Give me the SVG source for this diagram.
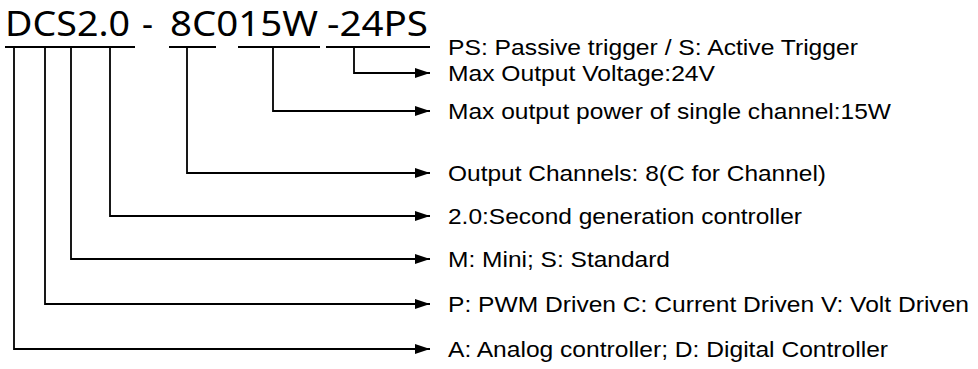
<svg xmlns="http://www.w3.org/2000/svg" width="978" height="369" viewBox="0 0 978 369">
<defs>
<marker id="arr" markerUnits="userSpaceOnUse" markerWidth="16" markerHeight="11" refX="15" refY="5" orient="auto"><path d="M0,0 L15,5 L0,10 z" fill="#000"/></marker>
<style>
.title{font-family:"Noto Sans","Open Sans",sans-serif;font-size:35px;fill:#000}
.lbl{font-family:"Liberation Sans",Arial,sans-serif;font-size:21.5px;fill:#000}
.ul{stroke:#000;stroke-width:2;fill:none}
.cn{stroke:#000;stroke-width:1.8;fill:none;marker-end:url(#arr)}
</style>
</defs>
<rect width="978" height="369" fill="#fff"/>
<g id="title">
<text class="title" x="5" y="36" textLength="125" lengthAdjust="spacingAndGlyphs">DCS2.0</text>
<text class="title" x="142" y="36" textLength="11" lengthAdjust="spacingAndGlyphs">-</text>
<text class="title" x="170" y="36" textLength="148" lengthAdjust="spacingAndGlyphs">8C015W</text>
<text class="title" x="327" y="36" textLength="101" lengthAdjust="spacingAndGlyphs">-24PS</text>
<line class="ul" x1="5" y1="47" x2="135" y2="47"/>
<line class="ul" x1="169" y1="47" x2="216" y2="47"/>
<line class="ul" x1="238" y1="47" x2="320" y2="47"/>
<line class="ul" x1="326" y1="47" x2="430" y2="47"/>
</g>
<g id="connectors">
<path class="cn" d="M354,47 V73 H430"/>
<path class="cn" d="M273,47 V111 H430"/>
<path class="cn" d="M187,47 V173 H430"/>
<path class="cn" d="M110,47 V216 H430"/>
<path class="cn" d="M71,47 V259 H430"/>
<path class="cn" d="M45,47 V304 H430"/>
<path class="cn" d="M14,47 V349 H430"/>
</g>
<g id="label-ps"><text class="lbl" x="448" y="55" textLength="410" lengthAdjust="spacingAndGlyphs">PS: Passive trigger / S: Active Trigger</text></g>
<g id="label-voltage"><text class="lbl" x="448" y="81" textLength="267" lengthAdjust="spacingAndGlyphs">Max Output Voltage:24V</text></g>
<g id="label-power"><text class="lbl" x="448" y="119" textLength="443" lengthAdjust="spacingAndGlyphs">Max output power of single channel:15W</text></g>
<g id="label-channels"><text class="lbl" x="448" y="181" textLength="378" lengthAdjust="spacingAndGlyphs">Output Channels: 8(C for Channel)</text></g>
<g id="label-generation"><text class="lbl" x="448" y="224" textLength="354" lengthAdjust="spacingAndGlyphs">2.0:Second generation controller</text></g>
<g id="label-size"><text class="lbl" x="448" y="267" textLength="222" lengthAdjust="spacingAndGlyphs">M: Mini; S: Standard</text></g>
<g id="label-drive"><text class="lbl" x="448" y="312" textLength="521" lengthAdjust="spacingAndGlyphs">P: PWM Driven C: Current Driven V: Volt Driven</text></g>
<g id="label-type"><text class="lbl" x="448" y="357" textLength="440" lengthAdjust="spacingAndGlyphs">A: Analog controller; D: Digital Controller</text></g>
</svg>
